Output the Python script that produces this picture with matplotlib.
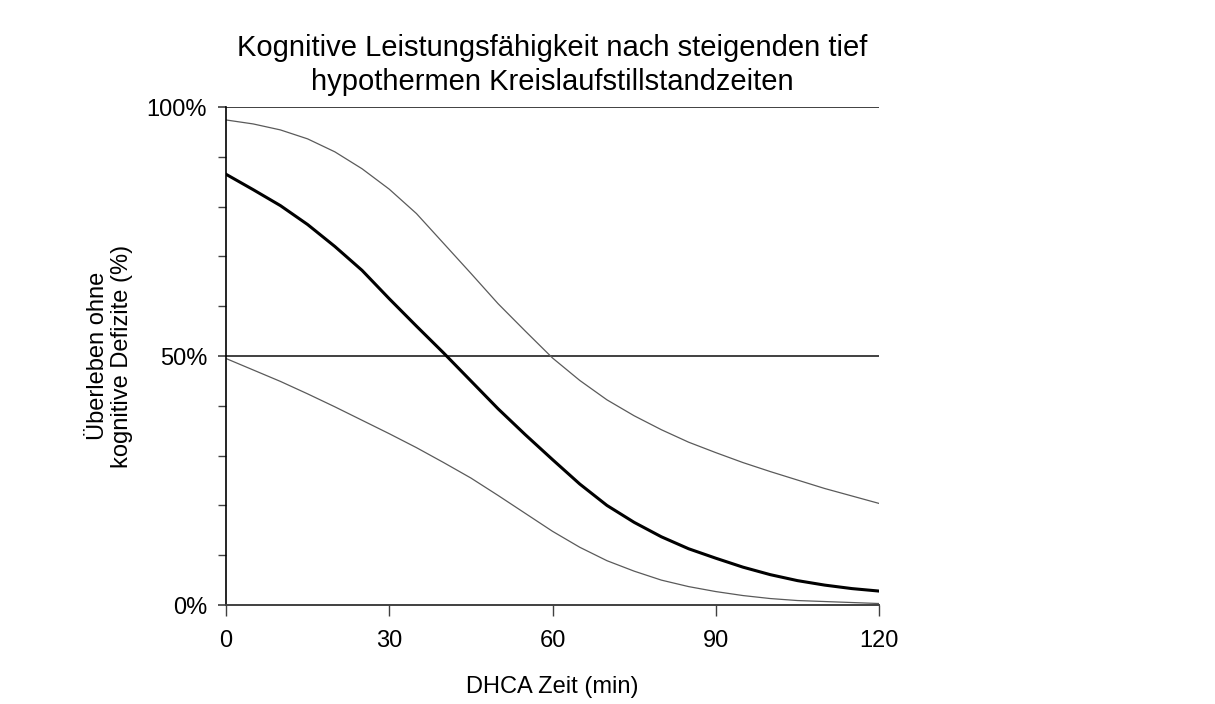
import matplotlib.pyplot as plt
import numpy as np
from matplotlib.ticker import MultipleLocator, FuncFormatter

plt.rcParams['font.family'] = ['Liberation Sans', 'DejaVu Sans']

# DHCA time (min)
zeit = [0, 5, 10, 15, 20, 25, 30, 35, 40, 45, 50, 55, 60,
        65, 70, 75, 80, 85, 90, 95, 100, 105, 110, 115, 120]

# survival without cognitive deficits (%), estimate and confidence band
mitte = [86.5, 83.4, 80.2, 76.4, 72.0, 67.2, 61.5, 56.0, 50.6, 45.0, 39.4, 34.2, 29.2,
         24.3, 20.0, 16.6, 13.7, 11.3, 9.4, 7.6, 6.1, 4.9, 4.0, 3.3, 2.8]
oben = [97.4, 96.6, 95.4, 93.6, 91.0, 87.6, 83.5, 78.6, 72.6, 66.6, 60.5, 55.0, 49.6,
        45.1, 41.2, 38.0, 35.2, 32.7, 30.6, 28.6, 26.8, 25.1, 23.4, 21.9, 20.4]
unten = [49.5, 47.2, 44.9, 42.4, 39.8, 37.1, 34.4, 31.6, 28.6, 25.5, 22.0, 18.4, 14.8,
         11.6, 8.9, 6.8, 5.0, 3.7, 2.7, 1.9, 1.3, 0.9, 0.7, 0.5, 0.3]

fig = plt.figure(figsize=(12.15, 7.04), dpi=100)
ax = fig.add_axes([0.186, 0.1406, 0.5375, 0.7074])

# horizontal reference lines
for y in (50, 100):
    ax.axhline(y, color='#404040', lw=1.4, zorder=1)

ax.plot(zeit, oben, color='#5a5a5a', lw=0.9)
ax.plot(zeit, unten, color='#5a5a5a', lw=0.9)
ax.plot(zeit, mitte, color='black', lw=2.2)

ax.set_xlim(0, 120)
ax.set_ylim(0, 100)
ax.set_xticks([0, 30, 60, 90, 120])
ax.yaxis.set_major_locator(MultipleLocator(50))
ax.yaxis.set_minor_locator(MultipleLocator(10))
ax.yaxis.set_major_formatter(FuncFormatter(lambda v, p: f'{v:.0f}%'))

for s in ('top', 'right'):
    ax.spines[s].set_visible(False)
ax.spines['left'].set_color('black')
ax.spines['left'].set_linewidth(1.2)
ax.spines['bottom'].set_color('#404040')
ax.spines['bottom'].set_linewidth(1.4)

ax.tick_params(axis='x', direction='out', length=8, width=1, colors='#404040',
               labelcolor='black', labelsize=17, pad=10)
ax.tick_params(axis='y', which='major', direction='out', length=5.5, width=1.2,
               colors='#404040', labelcolor='black', labelsize=17, pad=8)
ax.tick_params(axis='y', which='minor', direction='out', length=5.5, width=1,
               colors='#404040')

ax.set_xlabel('DHCA Zeit (min)', fontsize=17, labelpad=17)
ax.set_ylabel('Überleben ohne\nkognitive Defizite (%)', fontsize=17, labelpad=10,
              linespacing=1.1)
ax.set_title('Kognitive Leistungsfähigkeit nach steigenden tief\n'
             'hypothermen Kreislaufstillstandzeiten', fontsize=21, pad=12,
             linespacing=1.3)

fig.savefig('out.png', dpi=100, facecolor='white')
